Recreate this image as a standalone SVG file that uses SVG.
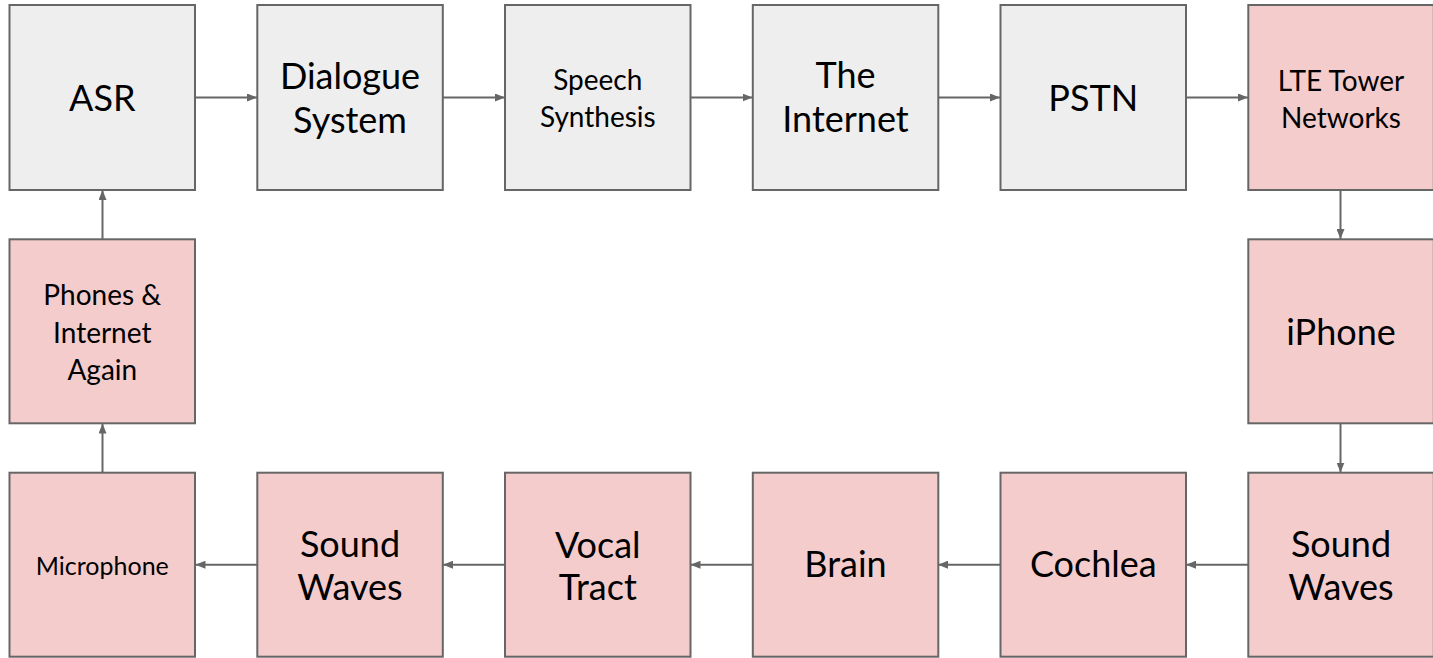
<svg xmlns="http://www.w3.org/2000/svg" width="1433" height="658" viewBox="0 0 1433 658">
<defs>
<marker id="ah" viewBox="0 0 10 8" refX="10" refY="4" markerWidth="10" markerHeight="8" markerUnits="userSpaceOnUse" orient="auto">
<path d="M0,0 L10,4 L0,8 Z" fill="#666666"/>
</marker>
<style>
.box rect{stroke:#666666;stroke-width:2}
.g rect{fill:#eeeeee}
.p rect{fill:#f4cccc}
text{font-family:Lato,"Noto Sans","Liberation Sans",sans-serif;fill:#000;text-anchor:middle}
.L{font-size:36px}
.M{font-size:28px}
.S{font-size:25px}
#connectors line{stroke:#666666;stroke-width:2;marker-end:url(#ah)}
</style>
</defs>
<rect width="1433" height="658" fill="#ffffff"/>
<g id="connectors">
<line x1="195" y1="97.5" x2="257" y2="97.5"/>
<line x1="443" y1="97.5" x2="505" y2="97.5"/>
<line x1="690" y1="97.5" x2="752.5" y2="97.5"/>
<line x1="938" y1="97.5" x2="1000" y2="97.5"/>
<line x1="1186" y1="97.5" x2="1248" y2="97.5"/>
<line x1="1340.5" y1="190" x2="1340.5" y2="239"/>
<line x1="1340.5" y1="423.5" x2="1340.5" y2="472.5"/>
<line x1="1248" y1="564.7" x2="1186" y2="564.7"/>
<line x1="1000" y1="564.7" x2="938" y2="564.7"/>
<line x1="752.5" y1="564.7" x2="690.5" y2="564.7"/>
<line x1="505" y1="564.7" x2="443" y2="564.7"/>
<line x1="257" y1="564.7" x2="195.5" y2="564.7"/>
<line x1="102.5" y1="472.5" x2="102.5" y2="423.5"/>
<line x1="102.5" y1="239" x2="102.5" y2="190"/>
</g>
<g id="asr" class="box g"><rect x="9.5" y="5" width="185.5" height="185"/><text class="L" x="102.3" y="111">ASR</text></g>
<g id="dialogue" class="box g"><rect x="257.3" y="5" width="185.5" height="185"/><text class="L" x="350" y="89.3">Dialogue</text><text class="L" x="350" y="132.7">System</text></g>
<g id="speech" class="box g"><rect x="505" y="5" width="185.5" height="185"/><text class="M" x="597.8" y="90">Speech</text><text class="M" x="597.8" y="126.7">Synthesis</text></g>
<g id="internet" class="box g"><rect x="752.8" y="5" width="185.5" height="185"/><text class="L" x="845.5" y="88.3">The</text><text class="L" x="845.5" y="132.3">Internet</text></g>
<g id="pstn" class="box g"><rect x="1000.5" y="5" width="185.5" height="185"/><text class="L" x="1093.3" y="110.7">PSTN</text></g>
<g id="lte" class="box p"><rect x="1248.3" y="5" width="185.5" height="185"/><text class="M" x="1341" y="90.7">LTE Tower</text><text class="M" x="1341" y="127.7">Networks</text></g>
<g id="phones" class="box p"><rect x="9.5" y="239.3" width="185.5" height="184"/><text class="M" x="102.3" y="305">Phones &amp;</text><text class="M" x="102.3" y="342.7">Internet</text><text class="M" x="102.3" y="380">Again</text></g>
<g id="iphone" class="box p"><rect x="1248.3" y="239.3" width="185.5" height="184"/><text class="L" x="1341" y="345">iPhone</text></g>
<g id="microphone" class="box p"><rect x="9.5" y="472.7" width="185.5" height="184"/><text class="S" x="102.3" y="575">Microphone</text></g>
<g id="soundwaves2" class="box p"><rect x="257.3" y="472.7" width="185.5" height="184"/><text class="L" x="350" y="556.7">Sound</text><text class="L" x="350" y="600">Waves</text></g>
<g id="vocal" class="box p"><rect x="505" y="472.7" width="185.5" height="184"/><text class="L" x="597.8" y="557.7">Vocal</text><text class="L" x="597.8" y="600">Tract</text></g>
<g id="brain" class="box p"><rect x="752.8" y="472.7" width="185.5" height="184"/><text class="L" x="845.5" y="577.3">Brain</text></g>
<g id="cochlea" class="box p"><rect x="1000.5" y="472.7" width="185.5" height="184"/><text class="L" x="1093.3" y="577.3">Cochlea</text></g>
<g id="soundwaves1" class="box p"><rect x="1248.3" y="472.7" width="185.5" height="184"/><text class="L" x="1341" y="556.7">Sound</text><text class="L" x="1341" y="600">Waves</text></g>
</svg>
